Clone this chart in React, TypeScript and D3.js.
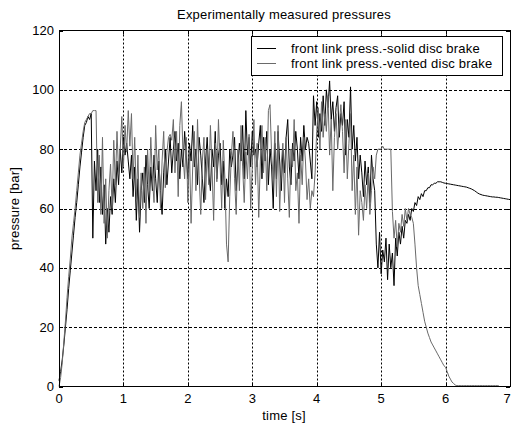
import React from "react";
import * as d3 from "d3";

const TITLE = "Experimentally measured pressures";
const X_LABEL = "time [s]";
const Y_LABEL = "pressure [bar]";
const X_TICKS = [0, 1, 2, 3, 4, 5, 6, 7];
const Y_TICKS = [0, 20, 40, 60, 80, 100, 120];
const SERIES_NAMES = ["front link press.-solid disc brake", "front link press.-vented disc brake"];
const SERIES_COLORS = ["#000000", "#6a6a6a"];
const SAMPLE_STEP = 0.025; // seconds between samples

// front link press. - solid disc brake (sampled every 0.025 s from t = 0)
const solidPressure: (number | null)[] = [
  2, 5, 9, 14, 20, 26, 33, 39, 45, 51, 57, 62, 68, 74, 79, 84, 88, 89, 91, 90, 92,
  50, 76, 66,
  80, 62, 74, 58,
  68, 48, 60, 52,
  64, 58, 70, 62,
  76, 68, 80, 72,
  84, 78, 82, 76,
  70, 78, 64, 74,
  56, 70, 52, 66,
  72, 62, 78, 68,
  60, 74, 66, 78,
  70, 62, 76, 66,
  58, 72, 80, 68,
  76, 84, 72, 80,
  86, 76, 82, 70,
  80, 74, 86, 78,
  70, 82, 76, 88,
  74, 80, 68, 84,
  78, 70, 62, 76,
  84, 72, 66, 80,
  74, 86, 70, 78,
  82, 68, 76, 60,
  70, 64, 80, 74,
  78, 84, 66, 74,
  82, 76, 88, 70,
  93, 78, 84, 74,
  86, 78, 80, 74,
  82, 88, 70, 84,
  76, 86, 68, 80,
  74, 60, 82, 70,
  86, 76, 66, 80,
  72, 84, 90, 74,
  68, 82, 76, 86,
  80, 70, 84, 76,
  88, 80, 84, 82,
  76, 70, 98, 88,
  96, 84, 92, 86,
  98, 88, 100, 94,
  103, 90, 96, 86,
  94, 98, 84, 92,
  88, 96, 78, 90,
  84, 101, 80, 88,
  76, 84, 70, 78,
  72, 64, 76, 68,
  74, 62, 78, 70,
  66, 48, 40, 52,
  38, 46, 42, 50,
  36, 48, 40, 45,
  34, 50, 44, 52,
  48, 54, 50, 56,
  55, 58, 56, 60,
  59, 62, 61, 64,
  63, 65, 64, 66,
  66, 67, 67, 68,
  68, 68.5, 68.5, 69,
  69, 69, 68.8, 68.6,
  68.5, 68.4, 68.3, 68.2, 68.1, 68, 67.9, 67.8, 67.7, 67.6,
  67.5, 67.4, 67.3, 67.2, 67.0, 66.8, 66.6, 66.3, 66.0, 65.6,
  65.2, 64.9, 64.7, 64.5, 64.4, 64.3, 64.2, 64.1, 64.0, 63.9,
  63.9, 63.8, 63.8, 63.7, 63.6, 63.5, 63.4, 63.3, 63.2, 63.1,
  63.0,
];

// front link press. - vented disc brake (sampled every 0.025 s from t = 0)
const ventedPressure: (number | null)[] = [
  0, 3, 8, 15, 22, 30, 37, 43, 50, 55, 60, 66, 72, 78, 82, 86, 89, 90, 91, 92, 92, 93, 93, 93,
  62, 78, 58, 84,
  55, 70, 50, 66,
  75, 60, 83, 68,
  86, 72, 80, 91,
  74, 88, 79, 93,
  81, 92, 70, 84,
  63, 78, 57, 72,
  60, 74, 55, 80,
  66, 84, 70, 62,
  88, 73, 80, 60,
  76, 86, 67, 79,
  84, 85, 83, 90,
  72, 86, 64, 88,
  96, 78, 70, 84,
  62, 80, 55, 74,
  86, 66, 90, 71,
  58, 76, 84, 63,
  80, 68, 88, 74,
  56, 82, 69, 90,
  75, 60, 83, 70,
  48, 42, 64, 78,
  86, 70, 58, 80,
  66, 88, 74, 62,
  79, 70, 85, 60,
  74, 90, 68, 82,
  57, 76, 88, 72,
  84, 66, 93, 95,
  78, 70, 86, 64,
  88, 59, 75, 82,
  62, 84, 70, 57,
  80, 74, 90, 66,
  72, 55, 78, 68,
  84, 76, 63, 70,
  60, 66, 64, 72,
  86, 94, 80, 96,
  84, 92, 86, 98,
  78, 90, 66, 84,
  92, 80, 88, 95,
  86, 72, 90, 70,
  82, 92, 66, 78,
  58, 74, 51, 66,
  62, 56, 68, 60,
  72, 58, 66, 74,
  70, 78, 80, 80,
  80, 81, 80, 80,
  80, 80, 80, 59,
  50, 56, 47, 55,
  52, 58, 54, 60,
  56, 60, 58, 57,
  55, 48, 40, 34,
  31, 28, 25, 22,
  20, 18, 16.5, 15,
  14, 13, 12, 11,
  10, 9, 8, 7,
  6.5, 5, 3.5, 2.5,
  1.5, 1, 0.5, 0.3,
  0.3, 0.3, 0.3, 0.3, 0.3, 0.3, 0.3, 0.3, 0.3, 0.3, 0.3, 0.3, 0.3,
  0.3, 0.3, 0.3, 0.3, 0.3, 0.3, 0.3, 0.3, 0.3, 0.3, 0.3, 0.3, 0.3,
  null, null, null, null, null, null, null,
];

const W = 512;
const H = 425;
const M = { left: 59, right: 510, top: 30.5, bottom: 386.5 };

export default function App() {
  const x = d3.scaleLinear().domain([0, 7]).range([M.left, M.right]);
  const y = d3.scaleLinear().domain([0, 120]).range([M.bottom, M.top]);

  const line = d3
    .line<number | null>()
    .defined((d) => d != null)
    .x((_, i) => x(i * SAMPLE_STEP))
    .y((d) => y(d as number));

  const font = "'Liberation Sans', Arial, sans-serif";
  const series = [solidPressure, ventedPressure];
  const fs = 13;
  const ls = 0.2;

  return (
    <svg
      width={W}
      height={H}
      style={{ position: "absolute", left: 0, top: 0, background: "#fff" }}
      fontFamily={font}
    >
      <rect x={0} y={0} width={W} height={H} fill="#fff" />
      <rect x={M.left} y={M.top} width={M.right - M.left} height={M.bottom - M.top} fill="#fff" />
      {/* grid */}
      {X_TICKS.slice(1, -1).map((t) => (
        <line key={"gx" + t} x1={Math.round(x(t)) + 0.5} x2={Math.round(x(t)) + 0.5} y1={M.top} y2={M.bottom}
          stroke="#000" strokeWidth={1} strokeDasharray="2,2" />
      ))}
      {Y_TICKS.slice(1, -1).map((t) => (
        <line key={"gy" + t} y1={Math.round(y(t)) + 0.5} y2={Math.round(y(t)) + 0.5} x1={M.left} x2={M.right}
          stroke="#000" strokeWidth={1} strokeDasharray="3,2" />
      ))}
      {/* data */}
      {series.map((s, k) => (
        <path key={k} d={line(s) || ""} fill="none" stroke={SERIES_COLORS[k]} strokeWidth={1} />
      ))}
      {/* frame */}
      <rect x={M.left + 0.5} y={M.top} width={M.right - M.left} height={M.bottom - M.top}
        fill="none" stroke="#000" strokeWidth={1} />
      {/* ticks inside */}
      {X_TICKS.map((t) => (
        <g key={"tx" + t}>
          <line x1={Math.round(x(t)) + 0.5} x2={Math.round(x(t)) + 0.5} y1={M.bottom} y2={M.bottom - 4} stroke="#000" />
          <line x1={Math.round(x(t)) + 0.5} x2={Math.round(x(t)) + 0.5} y1={M.top} y2={M.top + 4} stroke="#000" />
          <text x={Math.min(x(t), W - 5)} y={403} fontSize={fs} textAnchor="middle" fill="#000">{t}</text>
        </g>
      ))}
      {Y_TICKS.map((t) => (
        <g key={"ty" + t}>
          <line y1={Math.round(y(t)) + 0.5} y2={Math.round(y(t)) + 0.5} x1={M.left} x2={M.left + 4} stroke="#000" />
          <line y1={Math.round(y(t)) + 0.5} y2={Math.round(y(t)) + 0.5} x1={M.right} x2={M.right - 4} stroke="#000" />
          <text x={54} y={y(t) + 4.5} fontSize={fs} textAnchor="end" fill="#000">{t}</text>
        </g>
      ))}
      {/* labels */}
      <text x={284} y={19} fontSize={fs} letterSpacing={ls} textAnchor="middle" fill="#000">{TITLE}</text>
      <text x={284} y={420} fontSize={fs} letterSpacing={ls} textAnchor="middle" fill="#000">{X_LABEL}</text>
      <text transform={`translate(19,${(M.top + M.bottom) / 2}) rotate(-90)`} fontSize={fs} letterSpacing={ls}
        textAnchor="middle" fill="#000">
        {Y_LABEL}
      </text>
      {/* legend */}
      <rect x={251.5} y={36.5} width={251} height={39} fill="#fff" stroke="#000" strokeWidth={1} />
      {SERIES_NAMES.map((n, k) => (
        <g key={"lg" + k}>
          <line x1={257} x2={276} y1={48.5 + k * 15} y2={48.5 + k * 15} stroke={SERIES_COLORS[k]} strokeWidth={1} />
          <text x={291} y={53 + k * 15} fontSize={fs} letterSpacing={ls} fill="#000">{n}</text>
        </g>
      ))}
    </svg>
  );
}
